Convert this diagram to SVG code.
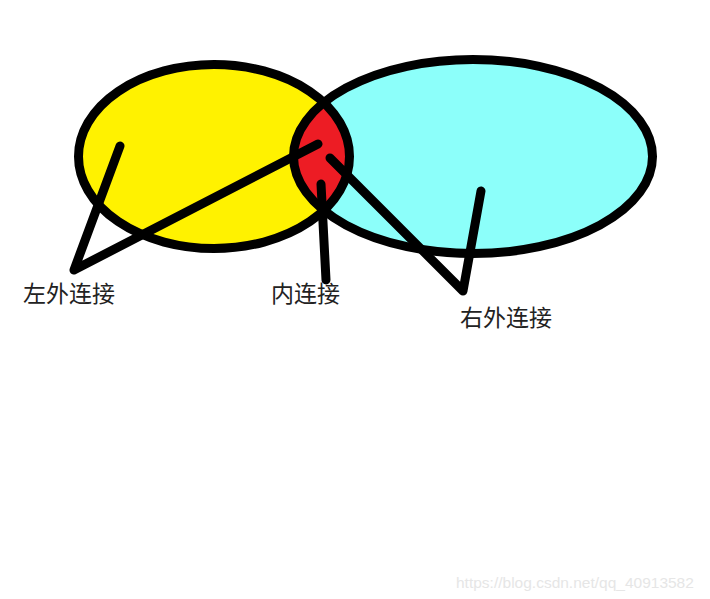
<svg xmlns="http://www.w3.org/2000/svg" width="710" height="599" viewBox="0 0 710 599">
  <style>
    .outline { fill: none; stroke: #000; stroke-width: 9; }
    .conn { fill: none; stroke: #000; stroke-width: 9; stroke-linecap: round; stroke-linejoin: round; }
    .label { font-family: "Noto Sans CJK SC", "Noto Sans", sans-serif; font-size: 23px; fill: #222; }
    .wm { font-family: "Liberation Sans", Arial, sans-serif; font-size: 15.5px; fill: #e6e6e6; }
  </style>
  <defs>
    <clipPath id="clipLeft">
      <ellipse cx="214" cy="156.5" rx="135.5" ry="92"/>
    </clipPath>
  </defs>
  <rect width="710" height="599" fill="#fff"/>
  <g id="left-set">
    <ellipse cx="214" cy="156.5" rx="135.5" ry="92" fill="#FFF200"/>
  </g>
  <g id="right-set">
    <ellipse cx="473" cy="156.5" rx="179.5" ry="97" fill="#8CFFFA"/>
  </g>
  <g id="intersection">
    <ellipse cx="473" cy="156.5" rx="179.5" ry="97" fill="#ED1C24" clip-path="url(#clipLeft)"/>
  </g>
  <g id="outlines">
    <ellipse class="outline" cx="214" cy="156.5" rx="135.5" ry="92"/>
    <ellipse class="outline" cx="473" cy="156.5" rx="179.5" ry="97"/>
  </g>
  <g id="connectors">
    <polyline class="conn" points="120,146 74,270 318,144"/>
    <polyline class="conn" points="321,184 326,280"/>
    <polyline class="conn" points="330,158 463,291 481,191"/>
  </g>
  <g id="label-left-outer">
    <text class="label" x="23" y="302">左外连接</text>
  </g>
  <g id="label-inner">
    <text class="label" x="271" y="302">内连接</text>
  </g>
  <g id="label-right-outer">
    <text class="label" x="460" y="326">右外连接</text>
  </g>
  <text class="wm" x="456" y="588">https://blog.csdn.net/qq_40913582</text>
</svg>
